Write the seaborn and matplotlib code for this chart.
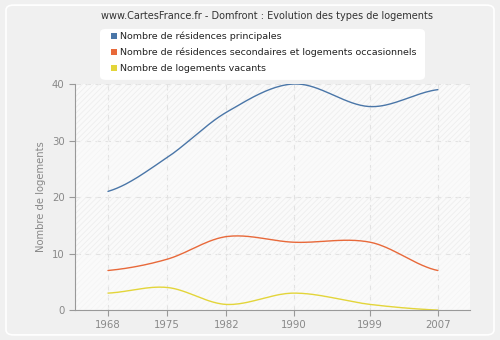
import numpy as np
import pandas as pd
import matplotlib
matplotlib.use("Agg")
import matplotlib.pyplot as plt
import seaborn as sns
from matplotlib.patches import FancyBboxPatch

years = [1968, 1975, 1982, 1990, 1999, 2007]
principales = [21, 27, 35, 40, 36, 39]
secondaires = [7, 9, 13, 12, 12, 7]
vacants = [3, 4, 1, 3, 1, 0]
labels = ["Nombre de résidences principales",
          "Nombre de résidences secondaires et logements occasionnels",
          "Nombre de logements vacants"]
colors = ["#4a76a8", "#e8693a", "#e3d53a"]
title = "www.CartesFrance.fr - Domfront : Evolution des types de logements"
ylabel = "Nombre de logements"


def smooth(x, y, n=40):
    x = np.asarray(x, float); y = np.asarray(y, float)
    m = np.zeros_like(y)
    for i in range(len(x)):
        if i == 0:
            m[i] = (y[1] - y[0]) / (x[1] - x[0]) * 0.5
        elif i == len(x) - 1:
            m[i] = (y[-1] - y[-2]) / (x[-1] - x[-2]) * 0.5
        else:
            m[i] = (y[i + 1] - y[i - 1]) / (x[i + 1] - x[i - 1])
    xs, ys = [], []
    for i in range(len(x) - 1):
        h = x[i + 1] - x[i]
        t = np.linspace(0, 1, n, endpoint=(i == len(x) - 2))
        h00 = 2 * t**3 - 3 * t**2 + 1
        h10 = t**3 - 2 * t**2 + t
        h01 = -2 * t**3 + 3 * t**2
        h11 = t**3 - t**2
        xs.append(x[i] + t * h)
        ys.append(h00 * y[i] + h10 * h * m[i] + h01 * y[i + 1] + h11 * h * m[i + 1])
    return np.concatenate(xs), np.concatenate(ys)


frames = []
for lab, vals in zip(labels, [principales, secondaires, vacants]):
    xs, ys = smooth(years, vals)
    frames.append(pd.DataFrame({"year": xs, "value": ys, "serie": lab}))
df = pd.concat(frames)

sns.set_theme(style="white")
plt.rcParams['font.family'] = ['DejaVu Sans']
plt.rcParams['hatch.linewidth'] = 0.6
fig = plt.figure(figsize=(5, 3.4), dpi=100)
fig.patch.set_facecolor("#f0f0f0")
bg = FancyBboxPatch((0.012, 0.015), 0.976, 0.97,
                    boxstyle="round,pad=0,rounding_size=0.015",
                    transform=fig.transFigure, facecolor="#f0f0f0",
                    edgecolor="#ffffff", linewidth=1.2, zorder=-10)
fig.patches.append(bg)
ax = fig.add_axes([0.15, 0.088, 0.79, 0.665])
ax.set_zorder(5)
ax.set_facecolor("#fafafa")
for lo in (10, 30):
    ax.axhspan(lo, lo + 10, facecolor="none", edgecolor="#eeeeee", hatch="//////", linewidth=0)
for lo in (0, 20):
    ax.axhspan(lo, lo + 10, facecolor="none", edgecolor="#f5f5f5", hatch="//////", linewidth=0)

sns.lineplot(data=df, x="year", y="value", hue="serie", palette=colors,
             ax=ax, linewidth=1.0, legend=False, sort=False, estimator=None)

ax.set_xlim(1964.1, 2010.8)
ax.set_ylim(0, 40)
ax.set_xticks(years)
ax.set_yticks([0, 10, 20, 30, 40])
ax.grid(True, color="#e2e2e2", linestyle=(0, (5, 4)), linewidth=0.8)
ax.set_axisbelow(True)
for s in ["top", "right"]:
    ax.spines[s].set_visible(False)
for s in ["left", "bottom"]:
    ax.spines[s].set_color("#999999")
    ax.spines[s].set_linewidth(0.8)
ax.tick_params(axis="both", colors="#999999", labelsize=7.3, length=4, width=0.8,
               direction="out", left=True, bottom=True)
for t in ax.get_xticklabels() + ax.get_yticklabels():
    t.set_color("#888888")
ax.set_xlabel("")
ax.set_ylabel(ylabel, fontsize=7.2, color="#888888")

fig.text(0.534, 0.952, title, ha="center", va="center", fontsize=7.0, color="#333333")

# legend
fig.patches.append(FancyBboxPatch((0.2, 0.765), 0.65, 0.15,
                                  boxstyle="round,pad=0,rounding_size=0.012",
                                  transform=fig.transFigure, facecolor="white",
                                  edgecolor="none", zorder=1))
ly = [0.893, 0.846, 0.799]
for y, c, lab in zip(ly, colors, labels):
    fig.patches.append(plt.Rectangle((0.221, y - 0.009), 0.012, 0.018,
                                     transform=fig.transFigure, facecolor=c, edgecolor="none", zorder=2))
    fig.text(0.24, y, lab, ha="left", va="center", fontsize=6.8, color="#222222", zorder=3)

fig.savefig("out.png", dpi=100, facecolor=fig.get_facecolor())
